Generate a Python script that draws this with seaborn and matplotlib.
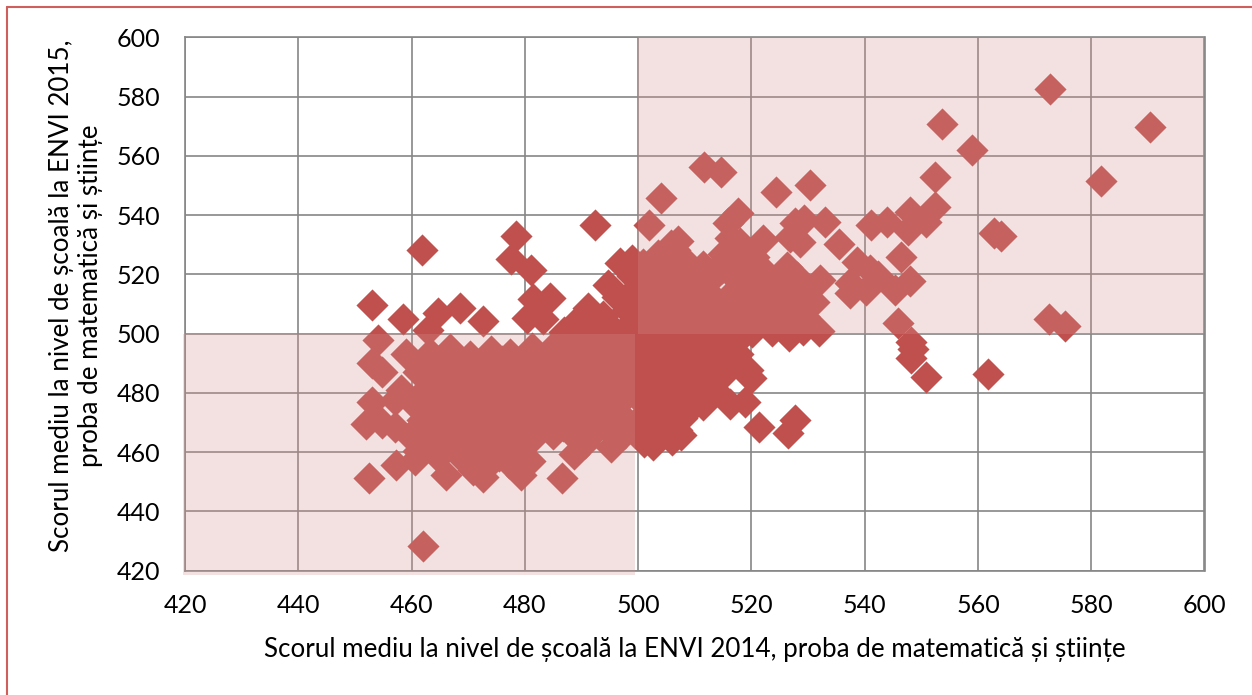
import matplotlib
matplotlib.use("Agg")
import matplotlib.pyplot as plt
from matplotlib.patches import Rectangle
from matplotlib.lines import Line2D
import seaborn as sns
import pandas as pd

# Points readable one by one
edge_x = [572.8,590.3,553.6,558.9,581.8,552.5,552.4,550.9,548.0,547.7,546.5,548.0,545.9,562.9,564.0,572.6,575.4,561.8,550.8,548.2,548.2,548.5,
          511.6,514.6,504.0,501.9,524.3,530.3,517.7,515.9,527.7,529.3,533.0,526.8,528.6,535.4,541.2,544.0,522.1,518.0,515.0,507.1,506.5,506.1,538.6,540.9,545.3,537.4,540.2,542.4,537.4,532.1,531.9,529.2,526.7,
          519.4,519.9,518.9,516.2,521.3,527.7,526.5,507.6,502.7,506.8,509.1,514.4,
          461.8,478.4,477.5,481.1,492.4,453.1,458.5,464.7,468.5,472.7,462.9,454.1,481.4,484.4,480.3,483.2,491.2,489.7,496.8,498.9,494.7,496.2,499.0,498.0,493.8,
          459.0,453.0,454.7,458.2,457.1,453.0,452.0,454.7,457.1,457.2,452.4,460.6,466.1,472.7,470.9,479.4,478.8,486.6,488.6,490.7,495.3,497.6,500.9,505.0,503.3,
          462.0]
edge_y = [582.7,569.7,570.8,561.8,551.5,553.0,542.9,537.7,541.2,535.0,525.7,517.9,503.5,534.1,533.1,505.0,502.7,486.5,485.3,491.7,497.2,494.7,
          556.4,554.6,545.9,536.7,547.8,550.0,540.7,537.3,537.3,538.4,537.8,532.5,531.0,530.4,536.8,537.6,531.7,530.6,527.0,531.4,528.3,525.6,524.3,521.5,514.8,513.7,514.8,519.3,517.1,518.1,501.0,501.3,499.3,
          487.8,485.0,476.8,476.3,468.6,470.9,466.4,465.8,462.4,467.5,478.7,488.9,
          528.2,533.0,525.3,521.4,536.6,509.5,504.9,506.9,508.6,504.4,501.3,497.7,511.6,512.0,505.3,505.0,508.7,505.3,523.9,524.9,516.4,512.5,519.3,508.0,506.0,
          493.2,490.0,487.2,481.0,477.6,476.9,469.4,469.8,468.6,455.7,451.2,457.4,452.3,451.7,454.0,452.3,456.4,451.2,459.3,463.0,461.9,466.4,466.5,469.9,475.4,
          428.5]

# Dense lower-left block, estimated
low_x = [463.2,466.8,470.4,474.1,477.3,481.2,484.6,488.3,491.7,495.4,498.6,
         461.1,464.9,468.3,472.2,475.6,479.1,482.9,486.4,489.8,493.3,497.1,
         462.7,466.1,470.0,473.4,477.0,480.6,484.1,487.7,491.2,494.8,498.2,
         460.4,464.2,467.9,471.3,475.1,478.6,482.3,485.8,489.2,492.9,496.5,
         461.9,465.5,469.2,472.8,476.4,480.1,483.5,487.1,490.6,494.2,497.7,
         459.7,463.3,467.0,470.7,474.2,477.8,481.4,485.0,488.5,492.1,
         461.2,464.8,468.5,472.0,475.7,479.2,
         470.1,473.7,477.2,480.9,
         465.0,468.6,472.3,475.9,479.4,483.0,486.5,490.1,493.6,497.3,500.5,
         462.8,466.5,470.1,473.8,477.4,481.0,484.5,488.0,491.6,495.2,498.9,
         461.6,465.3,469.0,472.7,476.2,479.9,483.3,487.0,490.5,494.1,497.8,
         462.9,466.6,470.3,473.9,477.6,481.2,484.8,488.3,491.9,495.5,
         461.4,465.0,468.7,472.4,476.0,479.6,483.1,486.7,490.3,493.9,
         462.9,466.6,470.2,473.9,477.5,481.0,
         464.6,468.3,471.9,475.5,479.0]
low_y = [493.4,494.8,492.6,494.1,493.0,495.2,492.8,494.5,493.1,494.9,492.7,
         487.2,488.4,486.9,488.7,487.3,488.9,486.8,488.2,487.5,488.8,487.0,
         481.8,482.9,481.2,483.0,481.6,482.6,481.0,482.8,481.4,483.1,481.7,
         476.2,477.4,475.8,477.1,476.5,477.6,475.9,476.9,476.1,477.5,476.3,
         471.0,472.1,470.4,471.7,470.8,472.2,470.6,471.5,470.9,472.0,471.2,
         465.6,466.7,465.1,466.4,465.8,466.9,465.3,466.2,465.9,466.6,
         460.3,461.4,460.0,461.2,460.6,461.5,
         456.7,456.1,456.5,457.0,
         490.6,491.2,490.1,490.9,490.4,491.3,490.2,490.8,490.5,491.0,490.3,
         485.0,485.6,484.7,485.4,484.9,485.7,484.8,485.3,485.1,485.5,484.6,
         479.2,479.8,478.9,479.6,479.1,479.9,478.8,479.5,479.0,479.7,479.3,
         473.8,474.4,473.5,474.2,473.7,474.5,473.6,474.1,473.9,474.3,
         468.5,469.1,468.2,468.9,468.4,469.2,468.3,468.8,468.6,469.0,
         463.0,463.6,462.7,463.4,462.9,463.7,
         458.4,458.9,458.1,458.7,458.3]

# Dense central and upper-right block, estimated
right_x = [501.6,505.2,508.7,512.3,515.8,
           500.3,503.8,507.4,510.9,514.2,517.1,
           501.9,505.5,509.1,512.6,
           499.8,503.4,507.0,510.2,513.7,
           501.2,504.8,508.3,511.5,
           500.6,504.1,507.7,
           501.0,505.9,
           499.4,502.8,506.3,509.8,513.2,516.7,520.1,523.6,527.0,
           501.3,504.7,508.2,511.8,518.4,522.0,525.5,529.3,531.0,
           500.2,503.6,507.1,510.7,515.9,519.6,523.2,526.9,529.6,
           501.8,505.3,508.9,512.9,517.6,521.3,524.8,528.1,
           500.9,504.4,507.9,511.4,514.8,518.7,522.6,526.2,
           502.7,506.2,509.7,513.4,516.9,520.4,
           503.5,505.8,508.4,511.2,516.3,
           491.8,494.6,497.2,499.6,489.6,
           495.3,498.4,492.6,486.9,485.3,488.4,
           500.0,503.4,507.0,510.5,514.1,517.6,
           501.2,504.9,508.4,511.9,515.5,
           500.1,503.6,507.2,510.8,
           501.8,505.3,508.8,
           503.0,
           500.5,504.0,507.5,511.0,514.5,518.0,491.0,494.5,497.7,
           502.9,506.4,510.0,513.6,517.0,520.4,524.0,527.5,
           501.5,505.0,508.6,512.1,516.0,520.0,523.6,527.6,
           500.0,503.6,507.3,510.9,519.5,522.9,526.5,
           502.3,506.0,509.5,513.1,516.5,520.5,524.5]
right_y = [495.2,496.3,494.7,495.9,495.1,
           489.4,490.5,489.0,490.2,489.6,491.1,
           484.1,485.0,483.7,484.8,
           478.6,479.7,478.2,483.0,480.6,
           473.3,474.4,473.0,476.0,
           468.2,469.0,471.4,
           463.4,464.1,
           500.9,501.8,500.3,501.4,500.7,501.9,500.4,500.9,503.6,
           506.9,508.0,506.4,507.5,506.9,505.8,507.2,506.0,510.8,
           512.6,513.5,512.0,513.1,512.4,513.6,512.1,513.3,512.9,
           518.0,519.1,517.5,518.6,517.9,518.8,517.4,519.2,
           523.4,522.5,521.1,522.9,522.1,523.8,520.3,522.6,
           516.8,515.9,510.6,511.9,528.4,525.7,
           526.7,529.8,524.3,518.4,532.2,
           498.3,499.6,500.7,503.5,499.1,
           502.2,512.9,503.8,500.4,496.1,500.8,
           492.4,492.9,492.1,492.7,492.3,493.0,
           487.1,487.6,486.8,487.4,487.0,
           481.5,482.0,481.2,481.8,
           476.0,476.6,475.7,
           471.0,
           498.0,498.5,497.7,498.3,497.9,498.6,497.9,498.2,497.6,
           504.1,504.7,503.8,504.4,504.0,503.6,504.3,503.9,
           509.9,510.5,509.6,510.2,509.8,510.4,509.7,510.1,
           515.3,515.9,515.0,515.7,515.6,515.2,515.8,
           520.8,520.2,519.6,520.6,525.0,520.9,516.0]

tick_values = [420,440,460,480,500,520,540,560,580,600]
x_label = "Scorul mediu la nivel de școală la ENVI 2014, proba de matematică și științe"
y_label = "Scorul mediu la nivel de școală la ENVI 2015,\nproba de matematică și științe"

df = pd.DataFrame({"x": edge_x + low_x + right_x, "y": edge_y + low_y + right_y})

sns.set_style("white")
plt.rcParams["font.family"] = ["Lato", "DejaVu Sans"]

W, H = 1252, 695
fig = plt.figure(figsize=(W/100, H/100), dpi=100, facecolor="white")
ax = fig.add_axes([185/W, 1-570.7/H, (1204.5-185)/W, (570.7-37.3)/H])

sns.scatterplot(data=df, x="x", y="y", ax=ax, marker="D", s=268, color="#c0504d",
                linewidth=0, clip_on=False, zorder=3, legend=False)

ax.set_xlim(420, 600)
ax.set_ylim(420, 600)
ax.set_xticks(tick_values)
ax.set_yticks(tick_values)
ax.grid(True, color="#868686", linewidth=1.2)
ax.set_axisbelow(True)
for s in ax.spines.values():
    s.set_color("#868686")
    s.set_linewidth(1.2)
ax.tick_params(length=0, labelsize=18, colors="black")
ax.tick_params(axis="x", pad=17)
ax.tick_params(axis="y", pad=18)

ax.add_patch(Rectangle((419.6, 418.7), 79.9, 81.3, facecolor="#d68f8d", alpha=0.27,
                       edgecolor="none", clip_on=False, zorder=5))
ax.add_patch(Rectangle((500, 500), 100, 100, facecolor="#d68f8d", alpha=0.27,
                       edgecolor="none", clip_on=False, zorder=5))

ax.set_xlabel(x_label, fontsize=18.7, color="black")
ax.set_ylabel(y_label, fontsize=18.7, color="black", linespacing=1.18)
ax.xaxis.set_label_coords((695-185)/(1204.5-185), -(649-570.7)/(570.7-37.3), transform=ax.transAxes)
ax.xaxis.label.set_verticalalignment("center")
ax.yaxis.set_label_coords(-(185-76)/(1204.5-185), (570.7-296)/(570.7-37.3), transform=ax.transAxes)
ax.yaxis.label.set_verticalalignment("center")

# outer frame of the picture
fig.add_artist(Line2D([6.5/W, 6.5/W], [0, 1-6.5/H], color="#cf5f5c", linewidth=1.5))
fig.add_artist(Line2D([6.5/W, 1], [1-6.5/H, 1-6.5/H], color="#cf5f5c", linewidth=1.5))

fig.savefig("out.png", dpi=100, facecolor="white")
